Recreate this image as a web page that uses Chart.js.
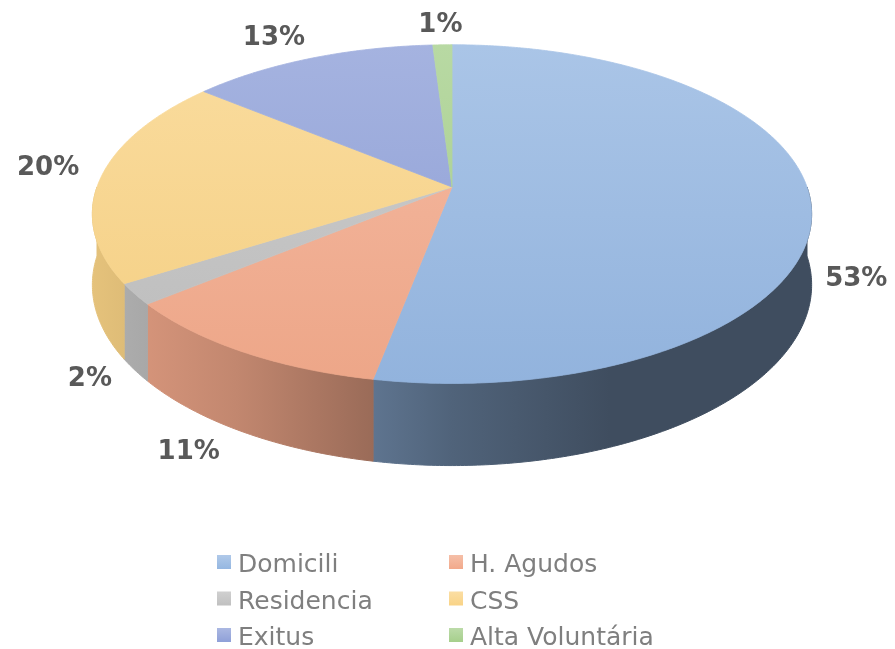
<!DOCTYPE html>
<html>
<head>
<meta charset="utf-8">
<script src="https://cdn.jsdelivr.net/npm/chart.js@4.4.0/dist/chart.umd.min.js"></script>
<style>
  html, body { margin: 0; padding: 0; background: #fff; }
  #wrap { width: 895px; height: 649px; }
</style>
</head>
<body>
<div id="wrap"><canvas id="chart1" width="895" height="649"></canvas></div>
<script>
const labels1 = ['Domicili', 'H. Agudos', 'Residencia', 'CSS', 'Exitus', 'Alta Voluntária'];
const values1 = [53, 11, 2, 20, 13, 1];
const colors1 = ['#95b7e1', '#f2a98b', '#c0c0c0', '#f9d386', '#8fa0d8', '#a6cf8c'];

// how the disc is seen: centre, radii, perspective, thickness
const view = { cx: 452, cy: 187, rx: 355, ry: 165, persp: 0.16, depth: 69 };

function rgb(hex) {
  const n = parseInt(hex.slice(1), 16);
  return [(n >> 16) & 255, (n >> 8) & 255, n & 255];
}
function shade(hex, f) {
  const c = rgb(hex).map(v => Math.round(v * f));
  return 'rgb(' + c.join(',') + ')';
}
function tint(hex, f) {
  const c = rgb(hex).map(v => Math.round(v + (255 - v) * f));
  return 'rgb(' + c.join(',') + ')';
}
function clamp1(v) { return Math.max(-1, Math.min(1, v)); }

function project(u, v, down) {
  const w = 1 - view.persp * v;
  return [view.cx + view.rx * u / w, view.cy + (view.ry * v + (down ? view.depth : 0)) / w];
}

function rim(ctx, a0, a1, down, move) {
  const n = Math.ceil(Math.abs(a1 - a0) / 0.01) + 1;
  for (let k = 0; k <= n; k++) {
    const a = a0 + (a1 - a0) * k / n;
    const p = project(Math.cos(a), Math.sin(a), down);
    if (k === 0 && move) ctx.moveTo(p[0], p[1]);
    else ctx.lineTo(p[0], p[1]);
  }
}

const pie3d = {
  id: 'pie3d',
  beforeDatasetsDraw(chart) {
    const ctx = chart.ctx;
    const arcs = chart.getDatasetMeta(0).data;
    const colors = chart.data.datasets[0].backgroundColor;
    const p = view.persp;
    const half = view.rx / Math.sqrt(1 - p * p);
    ctx.save();
    // side of the disc, only the front half shows
    arcs.forEach((arc, i) => {
      const s = Math.max(arc.startAngle, 0), e = Math.min(arc.endAngle, Math.PI);
      if (e <= s) return;
      ctx.beginPath();
      rim(ctx, s, e, false, true);
      rim(ctx, e, s, true, false);
      ctx.closePath();
      const g = ctx.createLinearGradient(view.cx - half, 0, view.cx + half, 0);
      [[0, 0.92], [0.2, 0.8], [0.5, 0.54], [0.72, 0.42], [1, 0.42]].forEach(st => g.addColorStop(st[0], shade(colors[i], st[1])));
      ctx.fillStyle = g;
      ctx.strokeStyle = g;
      ctx.lineWidth = 1;
      ctx.fill();
      ctx.stroke();
    });
    // top faces
    const top = view.cy - view.ry / (1 + p), bottom = view.cy + view.ry / (1 - p);
    arcs.forEach((arc, i) => {
      ctx.beginPath();
      const c = project(0, 0, false);
      ctx.moveTo(c[0], c[1]);
      rim(ctx, arc.startAngle, arc.endAngle, false, false);
      ctx.closePath();
      const g = ctx.createLinearGradient(0, top, 0, bottom);
      g.addColorStop(0, tint(colors[i], 0.2));
      g.addColorStop(1, shade(colors[i], 0.98));
      ctx.fillStyle = g;
      ctx.strokeStyle = g;
      ctx.lineWidth = 0.8;
      ctx.fill();
      ctx.stroke();
    });
    ctx.restore();
    return false;
  },
  afterDraw(chart) {
    const ctx = chart.ctx;
    const arcs = chart.getDatasetMeta(0).data;
    const data = chart.data.datasets[0].data;
    const colors = chart.data.datasets[0].backgroundColor;
    const total = data.reduce((a, b) => a + b, 0);
    ctx.save();
    // percentage labels, outside the slice
    ctx.font = 'bold 26px "DejaVu Sans"';
    ctx.fillStyle = '#595959';
    ctx.textAlign = 'center';
    ctx.textBaseline = 'middle';
    arcs.forEach((arc, i) => {
      const m = (arc.startAngle + arc.endAngle) / 2;
      const u = Math.cos(m), v = Math.sin(m);
      const pt = project(u, v, v > 0);
      const txt = Math.round(data[i] / total * 100) + '%';
      const hw = ctx.measureText(txt).width / 2;
      const front = Math.max(v, 0);
      const gap = 18 - 4 * u + 3 * front;
      const dx = (hw + gap) * clamp1((1.6 + 0.8 * front) * u);
      const dy = v > 0 ? 6 + 40 * Math.max(v - 0.5, 0) : -7 - 13 * Math.min(1, -1.6 * v);
      ctx.fillText(txt, pt[0] + dx, pt[1] + dy);
    });
    // legend, two columns
    ctx.font = '25px "DejaVu Sans"';
    ctx.textAlign = 'left';
    ctx.textBaseline = 'alphabetic';
    chart.data.labels.forEach((lab, i) => {
      const bx = 217 + (i % 2) * 232, by = 555 + Math.floor(i / 2) * 36.5;
      const g = ctx.createLinearGradient(0, by, 0, by + 14);
      g.addColorStop(0, tint(colors[i], 0.25));
      g.addColorStop(1, colors[i]);
      ctx.fillStyle = g;
      ctx.fillRect(bx, by, 14, 14);
      ctx.fillStyle = '#7f7f7f';
      ctx.fillText(lab, bx + 21, by + 17);
    });
    ctx.restore();
  }
};

const config1 = {
  type: 'pie',
  data: {
    labels: labels1,
    datasets: [{
      data: values1,
      backgroundColor: colors1,
      borderWidth: 0
    }]
  },
  options: {
    responsive: false,
    devicePixelRatio: 1,
    animation: false,
    events: [],
    plugins: {
      legend: { display: false },
      tooltip: { enabled: false }
    }
  },
  plugins: [pie3d]
};

const chart1 = new Chart(document.getElementById('chart1'), config1);
</script>
</body>
</html>
